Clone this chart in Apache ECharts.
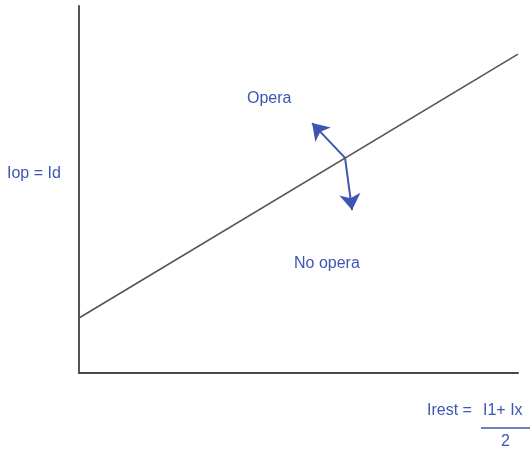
<!DOCTYPE html>
<html>
<head>
<meta charset="utf-8">
<script src="https://cdn.jsdelivr.net/npm/echarts@6/dist/echarts.min.js"></script>
<style>
  html, body { margin: 0; padding: 0; background: #fff; }
  #chart { width: 530px; height: 452px; }
</style>
</head>
<body>
<div id="chart"></div>
<script>
// characteristic line (Irest, Iop) in axis units 0..100
var lineX = [0, 100];
var lineY = [15, 86.9];
// direction arrows starting on the line
var arrowStart = [60.6, 58.6];
var arrowUp = [53.1, 68.1];
var arrowDown = [62.2, 44.4];
// labels
var labelUp = 'Opera';
var labelDown = 'No opera';
var yLabel = 'Iop = Id';
var xLabelLeft = 'Irest =';
var xLabelNum = 'I1+ Ix';
var xLabelDen = '2';

var blue = '#3d55b3';
var font = '"Liberation Sans", Arial, sans-serif';

var myChart = echarts.init(document.getElementById('chart'));
var options = {
    animation: false,
    grid: { left: 79, right: 12, top: 6, bottom: 79 },
    xAxis: {
        type: 'value', min: 0, max: 100,
        axisLine: { show: true, lineStyle: { color: '#4a4a4a', width: 2 } },
        axisTick: { show: false },
        axisLabel: { show: false },
        splitLine: { show: false }
    },
    yAxis: {
        type: 'value', min: 0, max: 100,
        axisLine: { show: true, lineStyle: { color: '#555', width: 2 } },
        axisTick: { show: false },
        axisLabel: { show: false },
        splitLine: { show: false }
    },
    series: [
        {
            type: 'line',
            data: lineX.map(function (x, i) { return [x, lineY[i]]; }),
            symbol: 'none',
            lineStyle: { color: '#555', width: 1.6 }
        },
        {
            type: 'lines',
            coordinateSystem: 'cartesian2d',
            symbol: ['none', 'arrow'],
            symbolSize: 16,
            lineStyle: { color: blue, width: 2, opacity: 1 },
            data: [
                { coords: [arrowStart, arrowUp] },
                { coords: [arrowStart, arrowDown] }
            ]
        }
    ],
    graphic: [
        { type: 'text', left: 247, top: 91, style: { text: labelUp, fill: blue, font: '16px ' + font } },
        { type: 'text', left: 294, top: 256, style: { text: labelDown, fill: blue, font: '16px ' + font } },
        { type: 'text', left: 7, top: 166, style: { text: yLabel, fill: blue, font: '16px ' + font } },
        { type: 'text', left: 427, top: 403, style: { text: xLabelLeft, fill: blue, font: '16px ' + font } },
        { type: 'text', left: 483, top: 403, style: { text: xLabelNum, fill: blue, font: '16px ' + font } },
        { type: 'line', shape: { x1: 481, y1: 428, x2: 530, y2: 428 }, style: { stroke: blue, lineWidth: 1.5 } },
        { type: 'text', left: 501, top: 434, style: { text: xLabelDen, fill: blue, font: '16px ' + font } }
    ]
};
myChart.setOption(options);
window.addEventListener('resize', myChart.resize);
</script>
</body>
</html>
